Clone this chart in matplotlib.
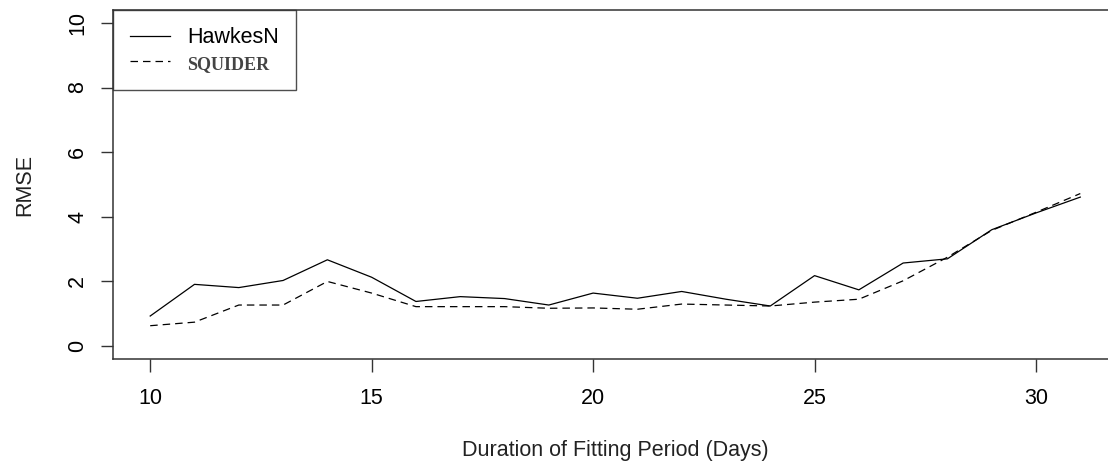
import numpy as np
import matplotlib.pyplot as plt

# data (RMSE per fitting duration)
days = np.arange(10, 32)
hawkesn = [0.93, 1.91, 1.81, 2.03, 2.67, 2.13, 1.38, 1.53, 1.47, 1.27, 1.64,
           1.48, 1.69, 1.45, 1.24, 2.18, 1.74, 2.57, 2.70, 3.60, 4.12, 4.61]
squider = [0.63, 0.74, 1.27, 1.27, 2.00, 1.64, 1.22, 1.22, 1.22, 1.17, 1.18,
           1.14, 1.30, 1.27, 1.24, 1.36, 1.45, 2.02, 2.75, 3.58, 4.14, 4.72]
xticks = [10, 15, 20, 25, 30]
yticks = [0, 2, 4, 6, 8, 10]

plt.rcParams['font.family'] = ['Liberation Sans', 'DejaVu Sans']
fs = 15.5

fig = plt.figure(figsize=(11.08, 4.65), dpi=100)
# R-style box; right edge runs slightly off the figure like the reference
ax = fig.add_axes([113/1108, 106/465, 1004.5/1108, 349/465])

ax.plot(days, hawkesn, color='black', lw=0.9, label='HawkesN')
ax.plot(days, squider, color='black', lw=0.9, linestyle=(0, (6, 4)), label='SQUIDER')

# R pads the range by 4% on each side
ax.set_xlim(10 - 0.84, 31 + 0.84)
ax.set_ylim(-0.4, 10.4)
ax.set_xticks(xticks)
ax.set_yticks(yticks)
ax.tick_params(axis='both', length=9, width=1, color='#333333', labelsize=fs)
ax.tick_params(axis='x', pad=12)
ax.tick_params(axis='y', pad=9)
for lab in ax.get_yticklabels():
    lab.set_rotation(90)
    lab.set_va('center')

for sp in ax.spines.values():
    sp.set_linewidth(1.1)
    sp.set_color('#333333')

ax.set_xlabel('Duration of Fitting Period (Days)', fontsize=fs, labelpad=22, color='#222222')
ax.set_ylabel('RMSE', fontsize=fs, labelpad=23, color='#222222')

leg = ax.legend(loc='upper left', bbox_to_anchor=(0, 1), borderaxespad=0,
                frameon=True, fancybox=False, edgecolor='#222222',
                fontsize=fs, handlelength=1.85, handletextpad=0.8,
                borderpad=0.8, labelspacing=0.25)
leg.get_frame().set_linewidth(1.0)
texts = leg.get_texts()
texts[1].set_fontfamily('Liberation Serif')
texts[1].set_fontweight('bold')
texts[1].set_fontsize(13)
texts[1].set_color('#444444')

fig.savefig('out.png', dpi=100)
